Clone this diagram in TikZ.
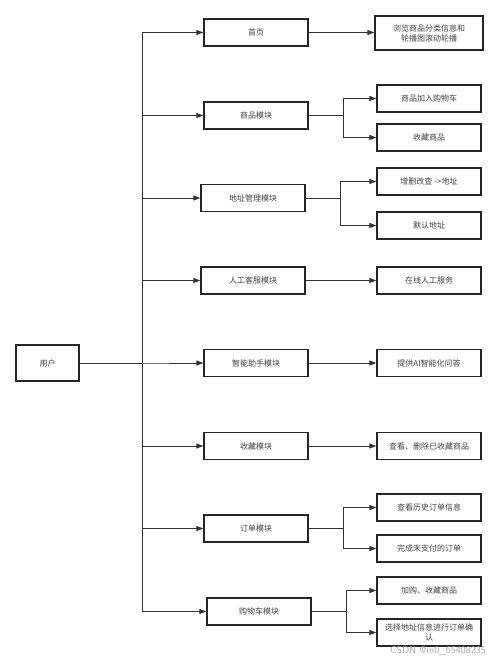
\documentclass[tikz,border=0pt]{standalone}
\usepackage{fontspec}
\setmainfont{Noto Sans CJK SC}
\usetikzlibrary{arrows.meta}

\begin{document}
\begin{tikzpicture}[x=1pt,y=-1pt,font=\fontsize{8}{10}\selectfont,
  box/.style={draw=black!85,line width=1.3pt,minimum width=104pt,minimum height=27pt,
    inner sep=1pt,align=center,text=black!75},
  link/.style={draw=black!80,line width=0.9pt,-{Triangle[length=7pt,width=5pt]}}]

\useasboundingbox (0,0) rectangle (499,662);

\node[box,minimum width=63pt,minimum height=36pt] (user) at (47.5,363) {用户};

\node[box] (home) at (256,32.5) {首页};
\node[box,minimum width=108pt,minimum height=34pt] (home1) at (429,33) {浏览商品分类信息和\\轮播图滚动轮播};

\node[box] (goods) at (256,115.5) {商品模块};
\node[box] (goods1) at (429,98.5) {商品加入购物车};
\node[box] (goods2) at (429,137.5) {收藏商品};

\node[box] (addr) at (253,198) {地址管理模块};
\node[box] (addr1) at (429,181.5) {增删改查 ->地址};
\node[box] (addr2) at (429,225.5) {默认地址};

\node[box] (service) at (253,280.5) {人工客服模块};
\node[box] (service1) at (429,280.5) {在线人工服务};

\node[box] (assist) at (256,363) {智能助手模块};
\node[box] (assist1) at (429,363) {提供AI智能化问答};

\node[box] (fav) at (256,446) {收藏模块};
\node[box] (fav1) at (429,446) {查看、删除已收藏商品};

\node[box] (order) at (256,528.5) {订单模块};
\node[box] (order1) at (429,507.5) {查看历史订单信息};
\node[box] (order2) at (429,548.5) {完成未支付的订单};

\node[box] (cart) at (259,611.5) {购物车模块};
\node[box] (cart1) at (429,590.5) {加购、收藏商品};
\node[box] (cart2) at (429,632.5) {选择地址信息进行订单确\\认};

% user -> modules
\coordinate (trunk) at (142,363);
\foreach \m in {home,goods,addr,service,assist,fav,order,cart}
  \draw[link] (user.east) -- (trunk) |- (\m.west);

% modules -> one leaf
\foreach \m in {home,service,assist,fav}
  \draw[link] (\m.east) -- (\m.east -| \m1.west);

% modules -> two leaves
\foreach \m in {goods,addr,order,cart}{
  \draw[link] (\m.east) -- ++(35,0) |- (\m1.west);
  \draw[link] (\m.east) -- ++(35,0) |- (\m2.west);}

\node[text=black!35,font=\sffamily\fontsize{10}{12}\selectfont] (wmark) at (438,651) {CSDN @m0\_65408235};

\end{tikzpicture}
\end{document}
